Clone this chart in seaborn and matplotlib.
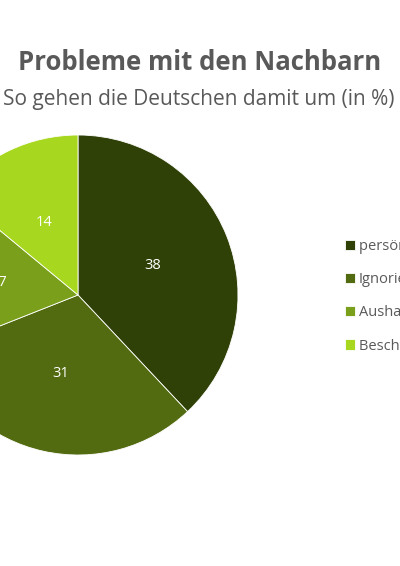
import seaborn as sns
import matplotlib.pyplot as plt

# Data
categories = ["persönliches Gespräch", "Ignorieren", "Aushalten", "Beschwerde beim Vermieter"]
values = [38, 31, 17, 14]
colors = ["#304108", "#526B10", "#7AA01B", "#A8D71F"]

sns.set_theme(style="white")
plt.rcParams["font.family"] = ["Open Sans", "DejaVu Sans"]

fig = plt.figure(figsize=(4, 5.66), dpi=100)

# pie axes: centre ~ (78, 295) px, radius ~160 px
ax = fig.add_axes([(78 - 160) / 400, (566 - 295 - 160) / 566, 320 / 400, 320 / 566])
wedges, texts, autotexts = ax.pie(values, colors=colors, startangle=90, counterclock=False,
                                  autopct=lambda p: f"{p:.0f}", pctdistance=0.5,
                                  wedgeprops=dict(linewidth=0.6, edgecolor="white"),
                                  textprops=dict(color="white", fontsize=10.5))
ax.set_xlim(-1, 1)
ax.set_ylim(-1, 1)
ax.set_aspect("equal")

# Titles
fig.text(0.5, 1 - 63 / 566, "Probleme mit den Nachbarn", ha="center", va="center",
         fontsize=18.5, fontweight="bold", color="#595959")
fig.text(0.4975, 1 - 99 / 566, "So gehen die Deutschen damit um (in %)", ha="center", va="center",
         fontsize=15, color="#595959")

# Legend
fig.legend(wedges, categories, loc="upper left", bbox_to_anchor=(345 / 400, 1 - 239 / 566),
           frameon=False, fontsize=10.5, handlelength=0.7, handleheight=0.7, handletextpad=0.25,
           labelspacing=1.25, borderpad=0, borderaxespad=0, labelcolor="#595959")

fig.savefig("out.png", dpi=100)
